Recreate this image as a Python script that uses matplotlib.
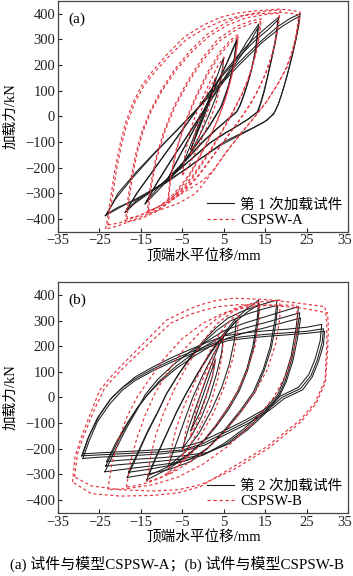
import matplotlib
matplotlib.use("Agg")
import matplotlib.pyplot as plt
from matplotlib.lines import Line2D
from matplotlib.transforms import offset_copy

plt.rcParams['font.family'] = ['Liberation Serif', 'Noto Sans CJK SC']
plt.rcParams['axes.unicode_minus'] = True

# ---------------- data ----------------
# Each loop: upper branch from negative peak to positive peak, then lower branch back.
# Panel (a): first loading test (black) and model CSPSW-A (red dashed)
A_TEST_23_1 = [(-23.6,-388),(-21,-320),(-17,-240),(-12,-150),(-7,-65),(-2,20),(3,110),(8,200),(13,280),(18,350),(21,382),(23.4,400),
               (23,350),(22.4,300),(21.7,250),(21,205),(20.2,155),(19.3,105),(18.3,55),(17.2,15),(15.5,-15),(12,-45),(8.5,-72),(5,-100),(2,-135),(-1,-170),(-4,-205),(-7.5,-240),(-11.5,-280),(-15.7,-318),(-20,-355),(-23.6,-388)]
A_TEST_23_2 = [(-23.2,-380),(-20.5,-300),(-16,-215),(-11,-130),(-6,-50),(-1,35),(4,120),(9,205),(14,285),(19,350),(21.5,375),(23.2,390),
               (22.8,340),(22.2,290),(21.5,240),(20.8,195),(20,145),(19.1,95),(18.1,45),(17,8),(14.5,-25),(11,-55),(7.5,-85),(4,-115),(1,-148),(-2,-180),(-5,-215),(-8,-250),(-12,-288),(-16,-325),(-20.5,-355),(-23.2,-380)]
A_TEST_18_1 = [(-18.8,-375),(-16,-300),(-12,-210),(-8,-120),(-4,-30),(0,60),(4,150),(8,230),(12,300),(15.5,350),(18.2,386),
               (17.9,340),(17.5,300),(16.9,250),(16.2,200),(15.5,150),(14.8,100),(14,55),(13.3,20),(11,-10),(8,-40),(5,-68),(2,-100),(-0.5,-135),(-3,-170),(-5.5,-205),(-8,-240),(-10.5,-270),(-13,-300),(-16.5,-340),(-18.8,-375)]
A_TEST_18_2 = [(-18.5,-365),(-15.5,-290),(-11.5,-200),(-7.5,-110),(-3.5,-20),(0.5,70),(4.5,155),(8.5,230),(12.5,295),(15.8,340),(18,375),
               (17.7,330),(17.3,290),(16.7,240),(16,190),(15.3,140),(14.6,95),(13.8,50),(13,15),(10.5,-15),(7.5,-45),(4.5,-75),(1.5,-105),(-1,-140),(-3.5,-175),(-6,-210),(-8.5,-245),(-11,-275),(-13.5,-300),(-16.5,-335),(-18.5,-365)]
A_TEST_13_1 = [(-14,-342),(-11.5,-270),(-8,-180),(-4,-80),(0,20),(4,120),(7.5,210),(10.5,290),(13.4,360),
               (13.1,315),(12.8,270),(12.2,220),(11.5,170),(10.7,125),(9.8,80),(9,45),(8.2,20),(6,-10),(4,-40),(2,-70),(0,-100),(-2,-135),(-4,-170),(-6,-205),(-8,-240),(-11.5,-300),(-14,-342)]
A_TEST_13_2 = [(-13.6,-330),(-11,-255),(-7.5,-165),(-3.5,-70),(0.5,30),(4.5,125),(8,210),(11,280),(13.2,345),
               (12.9,300),(12.6,260),(12,210),(11.3,160),(10.5,118),(9.6,75),(8.8,40),(8,15),(5.8,-15),(3.5,-45),(1.5,-75),(-0.5,-105),(-2.5,-140),(-4.5,-175),(-6.5,-208),(-8.5,-240),(-11.5,-290),(-13.6,-330)]
A_TEST_8_1 = [(-9,-260),(-6.5,-180),(-3.5,-90),(-0.5,0),(2.5,100),(5.5,200),(8.1,300),
              (7.8,260),(7.5,220),(7,175),(6.3,130),(5.5,85),(4.5,40),(3,0),(1.5,-40),(-2,-120),(-5.5,-200),(-9,-260)]
A_TEST_8_2 = [(-8.7,-250),(-6.2,-170),(-3.2,-80),(-0.2,10),(2.8,110),(5.7,205),(8,290),
              (7.7,250),(7.4,210),(6.8,165),(6.1,120),(5.2,78),(4.2,35),(2.7,-5),(1.2,-45),(-2.3,-125),(-5.8,-200),(-8.7,-250)]
A_TEST_5 = [(-5,-190),(-3,-110),(-1,-30),(1,50),(3,140),(5,230),
            (4.7,190),(4.3,150),(3.7,110),(3,70),(2,30),(1,-10),(-1,-80),(-3,-140),(-5,-190)]
A_TEST_3 = [(-3,-130),(-1.5,-60),(0,0),(1.5,70),(3,150),
            (2.5,110),(2,80),(1.3,45),(0.5,10),(-1,-50),(-3,-130)]

A_MODEL_23_1 = [(-23.5,-440),(-23,-390),(-22.4,-330),(-21.4,-220),(-20.2,-120),(-18.8,-30),(-17,50),(-14.8,120),(-12,180),(-8.5,245),(-4.5,310),(0,355),(4,385),(8,402),(13,412),(18.6,418),(21.5,413),(23.4,405),
                (23.2,370),(22.6,320),(21.6,255),(20.2,190),(18,125),(15.4,60),(12.3,-5),(8.9,-70),(5.8,-135),(3,-200),(0.5,-255),(-1.9,-302),(-6,-340),(-11.6,-372),(-17,-405),(-20.5,-428),(-23.5,-440)]
A_MODEL_23_2 = [(-23,-425),(-22.5,-375),(-21.9,-318),(-20.9,-210),(-19.7,-112),(-18.3,-25),(-16.5,52),(-14.3,118),(-11.5,176),(-8,238),(-4,300),(0.5,343),(4.5,372),(8.5,390),(13.5,400),(18.8,405),(21.5,401),(23,395),
                (22.8,360),(22.3,310),(21.3,245),(19.8,180),(17.6,115),(15,50),(11.8,-15),(8.5,-80),(5.3,-145),(2.5,-210),(0,-250),(-3.5,-285),(-9,-340),(-15,-385),(-20,-415),(-23,-425)]
A_MODEL_18_1 = [(-18.8,-414),(-18.2,-330),(-17.4,-240),(-16.3,-150),(-14.8,-60),(-12.8,20),(-10.2,100),(-7,180),(-3.2,255),(1,320),(5.5,365),(10,395),(15,410),(18.6,415),
                (18.3,375),(18,340),(17.4,285),(16.5,230),(15.2,170),(13.5,110),(11.5,50),(9,-10),(6.5,-65),(4,-120),(1.5,-175),(-1,-230),(-3.5,-275),(-6,-310),(-11,-370),(-15,-400),(-18.8,-414)]
A_MODEL_18_2 = [(-18.4,-400),(-17.8,-318),(-17,-230),(-15.9,-142),(-14.4,-55),(-12.4,24),(-9.8,102),(-6.6,178),(-2.8,250),(1.4,312),(5.9,356),(10.4,384),(15.4,398),(18.4,402),
                (18.1,365),(17.8,330),(17.2,276),(16.2,222),(14.9,162),(13.2,102),(11.1,42),(8.6,-18),(6.1,-73),(3.6,-128),(1.1,-182),(-1.4,-235),(-3.9,-275),(-6.4,-305),(-11.4,-360),(-15.4,-388),(-18.4,-400)]
A_MODEL_13_1 = [(-13.5,-380),(-13.2,-330),(-12.8,-280),(-11.5,-170),(-9.5,-60),(-7,40),(-4,130),(-0.5,220),(3.5,300),(8,350),(11.5,372),(14,380),
                (13.8,345),(13.5,310),(12.9,255),(12,200),(10.9,145),(9.5,90),(7.8,35),(6,-20),(4,-75),(2,-130),(-0.2,-185),(-2.5,-240),(-4.8,-285),(-7,-320),(-11,-365),(-13.5,-380)]
A_MODEL_13_2 = [(-13.2,-368),(-12.9,-322),(-12.5,-272),(-11.2,-165),(-9.2,-58),(-6.7,40),(-3.7,128),(-0.2,215),(3.8,292),(8.2,340),(11.6,362),(13.8,370),
                (13.6,338),(13.3,302),(12.7,248),(11.8,194),(10.7,140),(9.3,86),(7.6,32),(5.8,-22),(3.8,-76),(1.8,-130),(-0.4,-183),(-2.7,-236),(-5,-280),(-7.2,-313),(-11,-355),(-13.2,-368)]
A_MODEL_8_1 = [(-8.5,-330),(-8.2,-280),(-7.8,-230),(-6.5,-130),(-4.5,-30),(-2,70),(1,170),(4,250),(6.5,295),(8.5,320),
               (8.3,285),(8,250),(7.5,200),(6.8,150),(5.9,95),(4.8,40),(3.5,-15),(2,-70),(0.3,-125),(-1.5,-180),(-3,-225),(-4.5,-260),(-7,-310),(-8.5,-330)]
A_MODEL_8_2 = [(-8.3,-318),(-8,-270),(-7.6,-222),(-6.3,-125),(-4.3,-28),(-1.8,68),(1.2,165),(4.2,243),(6.6,287),(8.4,310),
               (8.2,278),(7.9,244),(7.4,195),(6.7,146),(5.8,92),(4.7,38),(3.4,-16),(1.9,-70),(0.2,-124),(-1.6,-177),(-3.1,-220),(-4.6,-254),(-7,-302),(-8.3,-318)]
A_MODEL_5 = [(-5,-230),(-4.3,-140),(-3,-50),(-1,40),(1.5,130),(3.5,195),(5,230),
             (4.8,195),(4.5,160),(4,110),(3.3,60),(2.2,10),(1,-40),(-1.5,-130),(-3.5,-195),(-5,-230)]
A_MODEL_3 = [(-3,-150),(-2,-70),(-0.5,20),(1.2,100),(3,150),
             (2.6,115),(2.2,80),(1.4,35),(0.5,-10),(-1.2,-90),(-3,-150)]

# Panel (b): second loading test (black) and model CSPSW-B (red dashed)
B_TEST_29_1 = [(-29,-220),(-27.5,-150),(-25,-70),(-22,0),(-19,45),(-16.4,80),(-12,120),(-7,160),(-2.7,190),(1,215),(5,240),(10,252),(15,260),(20,266),(25,274),(28.6,285),
               (28.2,220),(27,150),(25.5,90),(23,40),(18.6,5),(15.4,-41),(10,-90),(5,-130),(-0.7,-174),(-5,-195),(-10,-203),(-15,-208),(-20,-212),(-25,-216),(-29,-220)]
B_TEST_29_2 = [(-29.3,-228),(-27.8,-160),(-25.5,-80),(-22.5,-10),(-19.5,38),(-16.5,72),(-12,112),(-7,150),(-2.5,180),(1.5,205),(5.5,228),(10,238),(15,246),(20,252),(25,258),(29,268),
               (28.7,215),(27.5,145),(26,85),(23.5,35),(19,0),(15.8,-45),(10.5,-95),(5.5,-135),(0,-180),(-5,-205),(-10,-212),(-15,-216),(-20,-220),(-25,-224),(-29.3,-228)]
B_TEST_29_3 = [(-29,-238),(-27.5,-170),(-25.5,-95),(-22.5,-25),(-19.5,28),(-16.5,65),(-12,105),(-7,142),(-2.5,172),(1.5,198),(6,222),(10,230),(15,238),(20,244),(25,250),(29.3,258),
               (29,205),(27.8,140),(26.3,80),(24,30),(19.5,-5),(16,-50),(11,-100),(6,-140),(0.5,-185),(-5,-210),(-10,-220),(-15,-225),(-20,-229),(-25,-233),(-29,-238)]
B_TEST_23_1 = [(-23.7,-290),(-21,-200),(-18.5,-120),(-16,-50),(-14,10),(-11,70),(-7,130),(-3,180),(1,220),(5,260),(10,290),(15,315),(20,340),(23,354),
               (22.4,270),(21.2,160),(19.5,70),(17.9,10),(14,-60),(10,-120),(5,-180),(0,-225),(-5,-250),(-10,-262),(-15,-272),(-20,-282),(-23.7,-290)]
B_TEST_23_2 = [(-23.5,-268),(-21,-185),(-18.5,-110),(-16,-45),(-13.5,10),(-10.5,65),(-6.5,122),(-2.5,170),(1.5,210),(5.5,245),(10,270),(15,292),(20,315),(23.3,330),
               (22.6,250),(21.4,150),(19.8,65),(18.2,8),(14.5,-62),(10.5,-122),(5.5,-182),(0.5,-220),(-5,-240),(-10,-248),(-15,-255),(-20,-262),(-23.5,-268)]
B_TEST_23_3 = [(-23.3,-250),(-20.8,-170),(-18.3,-100),(-15.8,-38),(-13.3,12),(-10.3,62),(-6.3,115),(-2.3,160),(1.8,200),(6,232),(10,252),(15,272),(20,295),(23.5,310),
               (22.8,235),(21.6,140),(20,60),(18.4,5),(14.8,-65),(10.8,-125),(6,-182),(1,-215),(-5,-228),(-10,-235),(-15,-240),(-20,-245),(-23.3,-250)]
B_TEST_18_1 = [(-18.3,-312),(-16,-230),(-13.5,-140),(-11,-60),(-9,10),(-6,90),(-3,160),(0,220),(3,270),(6,310),(10,340),(14,362),(17.8,380),
               (17.3,300),(16.2,200),(14.5,110),(12.1,21),(9,-50),(5,-130),(1,-200),(-3,-250),(-8,-280),(-13,-298),(-18.3,-312)]
B_TEST_18_2 = [(-18,-292),(-15.7,-212),(-13.2,-125),(-10.7,-48),(-8.7,18),(-5.7,95),(-2.7,162),(0.3,218),(3.3,262),(6.5,298),(10.5,325),(14.5,345),(18,360),
               (17.5,285),(16.4,190),(14.7,105),(12.4,18),(9.3,-52),(5.3,-130),(1.3,-195),(-3,-240),(-8,-265),(-13,-280),(-18,-292)]
B_TEST_13_1 = [(-13.6,-322),(-11.5,-240),(-9,-150),(-6.5,-60),(-4.3,10),(-1.5,90),(1.5,170),(4.5,240),(7.5,300),(10.5,345),(13.4,380),
               (13,300),(12,200),(10.5,110),(8.5,30),(6,-40),(3,-110),(0,-170),(-4,-230),(-8,-275),(-11,-300),(-13.6,-322)]
B_TEST_13_2 = [(-13.3,-305),(-11.2,-225),(-8.7,-138),(-6.2,-50),(-4,18),(-1.2,95),(1.8,172),(4.8,240),(7.8,295),(10.8,335),(13.6,365),
               (13.2,290),(12.2,195),(10.7,105),(8.7,25),(6.2,-45),(3.2,-112),(0.2,-170),(-3.8,-225),(-7.8,-265),(-10.8,-288),(-13.3,-305)]
B_TEST_8 = [(-8.5,-270),(-6.5,-180),(-4.5,-90),(-2.5,0),(0,90),(2.5,170),(5,240),(8,300),
            (7.5,220),(6.3,130),(4.5,40),(2,-50),(-1,-140),(-4.5,-215),(-8.5,-270)]
B_TEST_5 = [(-5,-200),(-3.5,-120),(-1.8,-40),(0,40),(1.8,120),(3.5,190),(5,250),
            (4.4,170),(3.2,90),(1.5,0),(-0.5,-80),(-2.8,-150),(-5,-200)]
B_TEST_3 = [(-3,-130),(-1.5,-60),(0,10),(1.5,80),(3,150),
            (2.2,80),(0.8,10),(-0.8,-60),(-3,-130)]

B_MODEL_30_1 = [(-31.5,-330),(-30.9,-231),(-29.5,-160),(-28.1,-101),(-26.5,-35),(-24.9,29),(-22,85),(-19.2,133),(-14.4,211),(-8.8,302),(-4,340),(-0.7,361),(3,378),(7.3,387),(15.4,382),(23.4,367),(29.4,354),
                (29.8,290),(29.8,200),(29.4,68),(27,-20),(23.4,-88),(15.4,-192),(7.3,-270),(-0.7,-348),(-6,-372),(-12,-382),(-20,-385),(-27,-375),(-31.5,-330)]
B_MODEL_30_2 = [(-31,-310),(-30.3,-220),(-28.8,-150),(-27.3,-90),(-25.6,-25),(-23.8,35),(-20.8,90),(-18,135),(-13.2,208),(-7.8,290),(-3,325),(0.5,342),(4,355),(8.5,362),(16,360),(24,348),(30,330),
                (30.2,270),(30,180),(29.5,60),(27.2,-25),(23.6,-95),(15.6,-200),(7.5,-280),(-0.5,-340),(-6,-360),(-12,-365),(-20,-360),(-27,-345),(-31,-310)]
B_MODEL_23 = [(-23,-360),(-22,-260),(-20.5,-170),(-18.5,-80),(-16,0),(-13,70),(-9.5,150),(-5,230),(0,290),(5,330),(10,350),(16,360),(22.5,360),
              (22.8,290),(22,190),(20,90),(17,0),(12,-100),(6,-190),(0,-260),(-6,-310),(-12,-340),(-18,-355),(-23,-360)]
B_MODEL_18 = [(-18.5,-350),(-17.5,-250),(-16,-160),(-14,-70),(-11.5,20),(-8.5,100),(-5,180),(-1,250),(3.5,310),(8,350),(13,372),(18.5,380),
              (18.5,310),(17.5,210),(15.5,110),(12.5,20),(8,-80),(3,-170),(-2,-240),(-7,-290),(-12,-325),(-15.5,-342),(-18.5,-350)]
B_MODEL_13 = [(-13.5,-330),(-12.8,-240),(-11.5,-150),(-9.5,-60),(-7,30),(-4,120),(-0.5,210),(3.5,290),(8,345),(13.5,370),
              (13.5,300),(12.5,200),(10.5,100),(7.5,0),(3.5,-100),(-1,-190),(-5.5,-260),(-10,-310),(-13.5,-330)]
B_MODEL_8 = [(-8.5,-300),(-7.8,-210),(-6.5,-120),(-4.5,-30),(-2,60),(1,160),(4,250),(6.5,300),(8.5,330),
             (8.3,260),(7.3,160),(5.3,50),(2.5,-60),(-1,-160),(-4.5,-240),(-7,-285),(-8.5,-300)]
B_MODEL_5 = [(-5,-230),(-4.3,-140),(-3,-50),(-1,40),(1.5,130),(3.5,200),(5,250),
             (4.6,170),(3.5,70),(1.5,-40),(-1.2,-130),(-3.5,-195),(-5,-230)]
B_MODEL_3 = [(-3,-150),(-2,-70),(-0.5,20),(1.2,100),(3,150),
             (2.2,80),(0.5,-10),(-1.2,-90),(-3,-150)]

A_TEST = [A_TEST_23_1, A_TEST_23_2, A_TEST_18_1, A_TEST_18_2, A_TEST_13_1, A_TEST_13_2,
          A_TEST_8_1, A_TEST_8_2, A_TEST_5, A_TEST_3]
A_MODEL = [A_MODEL_23_1, A_MODEL_23_2, A_MODEL_18_1, A_MODEL_18_2, A_MODEL_13_1, A_MODEL_13_2,
           A_MODEL_8_1, A_MODEL_8_2, A_MODEL_5, A_MODEL_3]
B_TEST = [B_TEST_29_1, B_TEST_29_2, B_TEST_29_3, B_TEST_23_1, B_TEST_23_2, B_TEST_23_3,
          B_TEST_18_1, B_TEST_18_2, B_TEST_13_1, B_TEST_13_2, B_TEST_8, B_TEST_5, B_TEST_3]
B_MODEL = [B_MODEL_30_1, B_MODEL_30_2, B_MODEL_23, B_MODEL_18, B_MODEL_13,
           B_MODEL_8, B_MODEL_5, B_MODEL_3]

X_TICKS = [-35, -25, -15, -5, 5, 15, 25, 35]
X_TICK_LABELS = ['\u221235', '\u221225', '\u221215', '\u22125', '5', '15', '25', '35']
Y_TICKS = [-400, -300, -200, -100, 0, 100, 200, 300, 400]
PANEL_LABELS = ['(a)', '(b)']
LEGEND_TEST = ['第 1 次加载试件', '第 2 次加载试件']
LEGEND_MODEL = ['CSPSW-A', 'CSPSW-B']
XLABEL = '顶端水平位移/mm'
YLABEL = '加载力/kN'
CAPTION = '(a) 试件与模型CSPSW-A；(b) 试件与模型CSPSW-B'

# ---------------- drawing ----------------
BLACK = '#1e1e1e'
RED = '#e3343f'
W, H = 353, 576
fig = plt.figure(figsize=(W / 100, H / 100), dpi=100)

axes_px = [(58, 231.6), (58, 512.8)]  # (left, bottom) in pixels from top-left
panels = [(A_TEST, A_MODEL), (B_TEST, B_MODEL)]

for i, ((lx, by), (tests, models)) in enumerate(zip(axes_px, panels)):
    ax = fig.add_axes([lx / W, (H - by) / H, 290.3 / W, 230.7 / H])
    for loop in tests:
        xs = [p[0] for p in loop]
        ys = [p[1] for p in loop]
        ax.plot(xs, ys, color=BLACK, lw=0.75, solid_joinstyle='round')
    for loop in models:
        xs = [p[0] for p in loop]
        ys = [p[1] for p in loop]
        ax.plot(xs, ys, color=RED, lw=0.85, ls=(0, (2.6, 2.2)))
    ax.set_xlim(-35, 35)
    ax.set_ylim(-450, 450)
    # last x label is drawn separately, nudged left so it stays inside the image
    ax.set_xticks(X_TICKS, labels=X_TICK_LABELS[:-1] + [''])
    ax.set_yticks(Y_TICKS)
    ax.tick_params(direction='in', length=3, width=0.8, labelsize=10.5, pad=2,
                   colors='#222222', top=False, right=False)
    ax.text(X_TICKS[-1], 0, X_TICK_LABELS[-1], fontsize=10.5, color='#222222',
            ha='center', va='top',
            transform=offset_copy(ax.get_xaxis_transform(), fig=fig, x=-2.6, y=-2.0, units='points'))
    for s in ax.spines.values():
        s.set_color('#444444')
        s.set_linewidth(0.9)
    ax.text(-32.4, 378, PANEL_LABELS[i], fontsize=11, ha='left', va='center')
    handles = [Line2D([], [], color=BLACK, lw=0.8),
               Line2D([], [], color=RED, lw=0.9, ls=(0, (2.6, 2.2)))]
    ax.legend(handles, [LEGEND_TEST[i], LEGEND_MODEL[i]], loc='lower right',
              bbox_to_anchor=(1.0, -0.005), frameon=False, fontsize=10.5,
              handlelength=1.9, handletextpad=0.4, labelspacing=0.15,
              borderpad=0.2, borderaxespad=0.2)
    top_px = by - 230.7
    fig.text(11 / W, 1 - (top_px + by) / 2 / H, YLABEL, rotation=90,
             ha='center', va='center', fontsize=10.5)
    fig.text(204 / W, 1 - (by + 24.5) / H, XLABEL, ha='center', va='center', fontsize=10.5)

fig.text(0.5, 1 - 564 / H, CAPTION, ha='center', va='center', fontsize=10.8)

fig.savefig('out.png', dpi=100)
